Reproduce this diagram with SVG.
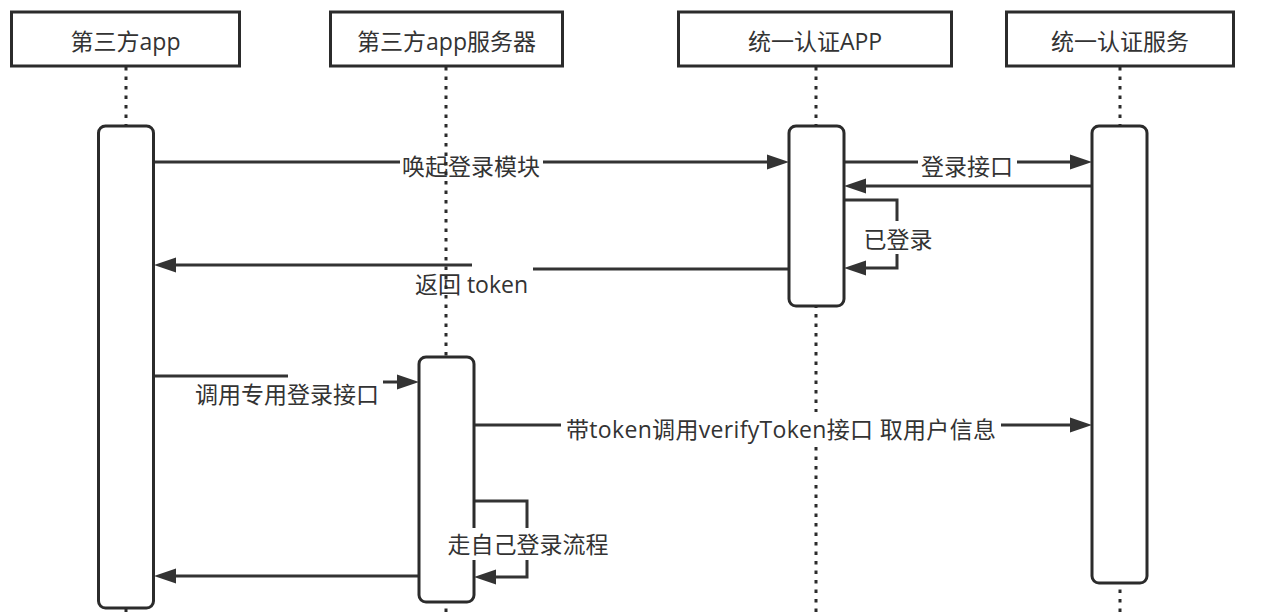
<svg xmlns="http://www.w3.org/2000/svg" width="1276" height="615" viewBox="0 0 1276 615">
<defs>
<marker id="arr" markerUnits="userSpaceOnUse" markerWidth="24" markerHeight="18" refX="12" refY="8" orient="auto">
<path d="M0,0.5 L22,8 L0,15.5 Z" fill="#333333"/>
</marker>
<style>
.box{fill:#ffffff;stroke:#2b2b2b;stroke-width:3}
.act{fill:#ffffff;stroke:#2b2b2b;stroke-width:3}
.life{stroke:#2b2b2b;stroke-width:3;stroke-dasharray:3.5 6;fill:none}
.msg{stroke:#333333;stroke-width:3;fill:none}
.arw{marker-end:url(#arr)}
.lbg{fill:#ffffff;stroke:none}
text{font-family:"Open Sans","Noto Sans CJK SC",sans-serif;font-size:23px;fill:#333333;text-anchor:middle}
</style>
</defs>
<rect width="1276" height="615" fill="#ffffff"/>

<g id="connectors">
<line class="msg arw" x1="154" y1="162" x2="779" y2="162"/>
<rect class="lbg" x="400" y="150" width="143" height="32"/>
<text x="471" y="175">唤起登录模块</text>

<line class="msg arw" x1="844" y1="162" x2="1082" y2="162"/>
<rect class="lbg" x="918" y="150" width="99" height="32"/>
<text x="967" y="175">登录接口</text>

<line class="msg arw" x1="1092" y1="186" x2="854" y2="186"/>

<polyline class="msg arw" points="844,200 897,200 897,268 854,268"/>
<rect class="lbg" x="862" y="221" width="73" height="33"/>
<text x="898" y="248">已登录</text>

<line class="msg" x1="789" y1="269" x2="533" y2="269"/>
<line class="msg arw" x1="472" y1="265" x2="164" y2="265"/>
<text x="471.5" y="293">返回 token</text>

<line class="msg" x1="154" y1="376" x2="288" y2="376"/>
<line class="msg arw" x1="383" y1="382" x2="409" y2="382"/>
<text x="287" y="403">调用专用登录接口</text>

<line class="msg arw" x1="474" y1="425" x2="1082" y2="425"/>
<rect class="lbg" x="561" y="412" width="440" height="32"/>
<text x="781" y="438" textLength="430" lengthAdjust="spacing">带token调用verifyToken接口 取用户信息</text>

<polyline class="msg arw" points="474,501 527,501 527,577 484,577"/>

<line class="msg arw" x1="419" y1="576" x2="164" y2="576"/>
</g>

<g id="third-app">
<line class="life" x1="126" y1="67" x2="126" y2="615"/>
<rect class="act" x="98.5" y="126" width="55" height="482" rx="7"/>
<rect class="box" x="11.5" y="12" width="228" height="54"/>
<text x="125.5" y="50">第三方app</text>
</g>

<g id="third-app-server">
<line class="life" x1="446" y1="67" x2="446" y2="615"/>
<rect class="act" x="419" y="357" width="55" height="245" rx="7"/>
<rect class="box" x="330.5" y="12" width="232" height="54"/>
<text x="446.5" y="50">第三方app服务器</text>
</g>

<g id="auth-app">
<line class="life" x1="816" y1="67" x2="816" y2="412"/>
<line class="life" x1="816" y1="447" x2="816" y2="615"/>
<rect class="act" x="789" y="126" width="55" height="180" rx="7"/>
<rect class="box" x="678.5" y="12" width="273" height="54"/>
<text x="815" y="50">统一认证APP</text>
</g>

<g id="auth-service">
<line class="life" x1="1120" y1="67" x2="1120" y2="615"/>
<rect class="act" x="1092" y="126" width="55" height="457" rx="7"/>
<rect class="box" x="1006.5" y="12" width="227" height="54"/>
<text x="1120" y="50">统一认证服务</text>
</g>

<g id="label-own-login">
<rect class="lbg" x="446" y="528" width="165" height="32"/>
<text x="528" y="553">走自己登录流程</text>
</g>
</svg>
